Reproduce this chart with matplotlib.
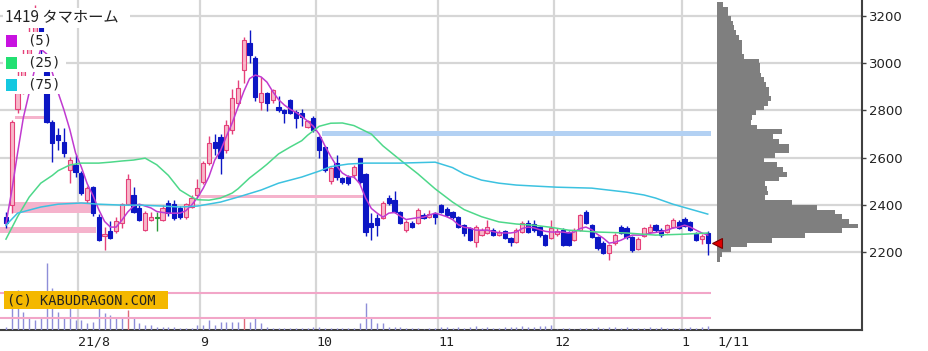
import numpy as np
import matplotlib
matplotlib.use('Agg')
import matplotlib.pyplot as plt
from matplotlib.patches import Rectangle

# 1419 タマホーム, daily candles 2021/7/12 - 2022/1/11
opens = [2350, 2400, 2805, 2880, 3000, 3110, 3160, 2965, 2750, 2695,
         2666, 2547, 2570, 2535, 2420, 2475, 2348, 2270, 2290, 2290,
         2325, 2405, 2440, 2385, 2295, 2336, 2345, 2336, 2410, 2405,
         2385, 2348, 2390, 2440, 2497, 2577, 2666, 2687, 2632, 2717,
         2831, 2971, 3086, 3022, 2836, 2875, 2844, 2815, 2800, 2844,
         2793, 2790, 2729, 2767, 2687, 2645, 2500, 2577, 2513, 2518,
         2525, 2597, 2530, 2323, 2344, 2344, 2430, 2420, 2370, 2293,
         2323, 2323, 2357, 2350, 2366, 2400, 2383, 2370, 2348, 2314,
         2302, 2242, 2272, 2280, 2293, 2272, 2290, 2260, 2242, 2285,
         2323, 2320, 2306, 2272, 2260, 2278, 2293, 2285, 2251, 2293,
         2370, 2314, 2264, 2240, 2195, 2238, 2306, 2302, 2264, 2215,
         2268, 2285, 2314, 2293, 2285, 2306, 2327, 2340, 2327, 2280,
         2255, 2280]
highs = [2370, 2760, 2970, 3060, 3160, 3245, 3180, 2975, 2760, 2725,
         2725, 2602, 2610, 2545, 2480, 2480, 2360, 2305, 2330, 2350,
         2410, 2530, 2475, 2400, 2375, 2370, 2370, 2400, 2420, 2420,
         2395, 2410, 2440, 2510, 2585, 2690, 2700, 2700, 2760, 2890,
         2930, 3110, 3140, 3030, 2940, 2880, 2890, 2860, 2805, 2850,
         2800, 2805, 2760, 2775, 2690, 2650, 2560, 2610, 2520, 2525,
         2570, 2600, 2535, 2365, 2360, 2415, 2440, 2460, 2375, 2335,
         2330, 2385, 2365, 2380, 2370, 2405, 2390, 2375, 2352, 2320,
         2305, 2315, 2300, 2335, 2300, 2295, 2295, 2265, 2300, 2330,
         2335, 2335, 2310, 2276, 2336, 2300, 2300, 2290, 2300, 2360,
         2380, 2320, 2270, 2245, 2235, 2280, 2315, 2310, 2270, 2262,
         2305, 2320, 2320, 2300, 2320, 2345, 2335, 2350, 2330, 2285,
         2275, 2290]
lows = [2300, 2365, 2790, 2870, 2990, 3090, 3040, 2745, 2580, 2632,
        2602, 2492, 2520, 2440, 2410, 2355, 2245, 2210, 2255, 2280,
        2300, 2400, 2365, 2330, 2290, 2330, 2290, 2330, 2355, 2336,
        2340, 2340, 2385, 2430, 2490, 2570, 2610, 2530, 2620, 2700,
        2820, 2916, 3000, 2840, 2800, 2797, 2830, 2795, 2745, 2785,
        2725, 2735, 2725, 2710, 2600, 2540, 2490, 2505, 2490, 2485,
        2515, 2490, 2270, 2250, 2270, 2340, 2400, 2365, 2318, 2285,
        2300, 2318, 2340, 2345, 2318, 2365, 2350, 2340, 2300, 2270,
        2245, 2220, 2268, 2275, 2268, 2268, 2255, 2225, 2238, 2280,
        2280, 2285, 2265, 2225, 2255, 2270, 2225, 2225, 2245, 2288,
        2318, 2260, 2210, 2190, 2165, 2230, 2275, 2255, 2200, 2210,
        2262, 2280, 2285, 2262, 2280, 2300, 2298, 2305, 2288, 2245,
        2235, 2187]
closes = [2325, 2750, 2875, 3000, 3110, 3170, 3070, 2750, 2662, 2675,
          2620, 2590, 2540, 2450, 2470, 2365, 2250, 2278, 2260, 2330,
          2405, 2510, 2370, 2336, 2365, 2350, 2345, 2385, 2365, 2345,
          2348, 2405, 2428, 2470, 2577, 2662, 2640, 2600, 2738, 2853,
          2895, 3098, 3035, 2857, 2875, 2831, 2886, 2800, 2790, 2790,
          2768, 2772, 2755, 2717, 2632, 2547, 2556, 2518, 2497, 2492,
          2560, 2497, 2285, 2306, 2314, 2408, 2408, 2370, 2323, 2327,
          2306, 2378, 2344, 2362, 2350, 2370, 2357, 2350, 2306, 2280,
          2251, 2306, 2293, 2306, 2272, 2285, 2260, 2242, 2293, 2323,
          2285, 2293, 2272, 2230, 2302, 2290, 2230, 2230, 2293, 2357,
          2323, 2264, 2217, 2195, 2230, 2272, 2280, 2264, 2208, 2255,
          2300, 2306, 2293, 2272, 2314, 2336, 2302, 2310, 2293, 2251,
          2268, 2240]
# volume, thousand shares (approx)
volume = [30, 220, 400, 180, 130, 100, 130, 670, 420, 180,
          120, 220, 100, 100, 70, 80, 220, 170, 150, 120,
          120, 200, 120, 70, 50, 50, 30, 30, 30, 30,
          20, 20, 20, 50, 50, 100, 50, 80, 80, 80,
          80, 130, 80, 120, 70, 30, 20, 20, 20, 20,
          20, 20, 20, 30, 30, 20, 20, 20, 20, 20,
          20, 70, 270, 120, 70, 70, 30, 30, 30, 20,
          20, 20, 10, 20, 20, 30, 30, 20, 30, 20,
          30, 40, 20, 30, 20, 20, 30, 30, 30, 40,
          30, 30, 40, 40, 50, 10, 20, 20, 10, 20,
          20, 20, 30, 20, 30, 30, 20, 30, 20, 20,
          20, 30, 20, 30, 20, 20, 20, 20, 30, 20,
          30, 40]
vol_red = [21, 41]
vol_lines = [370, 120]

# moving averages
ma5 = [2320, 2460, 2620, 2770, 2875, 2980, 3060, 3040, 2960, 2875,
       2802, 2720, 2620, 2560, 2490, 2440, 2380, 2330, 2306, 2306,
       2336, 2370, 2395, 2403, 2395, 2387, 2372, 2368, 2365, 2365,
       2365, 2375, 2399, 2430, 2470, 2520, 2590, 2630, 2690, 2747,
       2814, 2880, 2935, 2950, 2942, 2920, 2880, 2846, 2823, 2805,
       2792, 2775, 2755, 2733, 2700, 2650, 2605, 2565, 2535, 2520,
       2518, 2490, 2430, 2385, 2365, 2348, 2365, 2368, 2352, 2338,
       2342, 2346, 2348, 2357, 2365, 2358, 2350, 2338, 2316, 2305,
       2302, 2293, 2293, 2293, 2287, 2282, 2281, 2281, 2285, 2300,
       2306, 2303, 2295, 2288, 2285, 2285, 2285, 2281, 2285, 2300,
       2306, 2295, 2275, 2259, 2238, 2242, 2250, 2262, 2272, 2272,
       2272, 2280, 2283, 2287, 2293, 2302, 2306, 2314, 2306, 2293,
       2281, 2272]
ma25_idx = [0, 2, 4, 6, 8, 9, 11, 13, 16, 18, 20, 22, 24, 26, 28, 30, 32, 33,
            35, 37, 39, 40, 42, 44, 45, 47, 49, 51, 52, 54, 56, 58, 60, 63, 65,
            68, 71, 74, 77, 79, 82, 85, 88, 91, 94, 97, 102, 107, 112, 117, 121]
ma25 = [2255, 2350, 2433, 2492, 2525, 2545, 2569, 2577, 2577, 2581, 2586, 2590,
        2598, 2570, 2525, 2463, 2433, 2422, 2420, 2429, 2450, 2468, 2514, 2552,
        2572, 2616, 2645, 2672, 2695, 2733, 2746, 2747, 2736, 2700, 2650, 2590,
        2532, 2468, 2412, 2380, 2350, 2328, 2319, 2314, 2305, 2293, 2285, 2281,
        2272, 2276, 2281]
ma75_idx = [0, 2, 6, 9, 13, 16, 20, 23, 27, 30, 33, 37, 40, 44, 47, 51, 54, 56,
            59, 62, 68, 74, 77, 79, 82, 85, 88, 91, 95, 101, 107, 110, 112, 115,
            118, 121]
ma75 = [2314, 2365, 2391, 2403, 2408, 2403, 2399, 2399, 2395, 2391, 2395, 2412,
        2433, 2463, 2492, 2518, 2543, 2562, 2573, 2577, 2577, 2581, 2558, 2531,
        2505, 2492, 2484, 2480, 2475, 2471, 2454, 2442, 2429, 2403, 2382, 2361]

# horizontal zones (price low, price high, first day, last day)
zone_lo = [2365, 2280, 2765, 2431, 2690]
zone_hi = [2413, 2306, 2778, 2442, 2712]
zone_from = [1, -1, 1.5, 33.5, 54.5]
zone_to = [15, 15.5, 6.5, 62, 121.5]
zone_col = ['#f5b3cc', '#f5b3cc', '#f5b3cc', '#f5b3cc', '#b3d1f3']

# price-by-volume profile, 20 yen bins from 2160
profile_bins = np.arange(2160, 3260, 20)
profile = [3, 5, 14, 30, 55, 88, 125, 141, 132, 125, 118, 100, 75, 48, 51,
           50, 48, 62, 70, 66, 60, 47, 58, 72, 72, 62, 56, 65, 40, 34, 35,
           39, 47, 51, 54, 52, 52, 49, 47, 44, 43, 43, 42, 27, 25, 25, 25,
           22, 19, 17, 16, 14, 11, 11, 6]

month_starts = [13, 34, 54, 75, 95, 117]
month_labels = ['21/8', '9', '10', '11', '12', '1']
last_label = '1/11'
price_grid = [2200, 2400, 2600, 2800, 3000, 3200]

W, H = 929, 351
fig = plt.figure(figsize=(W / 100, H / 100), dpi=100)
rect = [0, 21 / H, 862 / W, 330 / H]
ax = fig.add_axes(rect)
ax.set_xlim(-1.03, 147.6)
ax.set_ylim(1870, 3268)

x = np.arange(len(closes))
o, hi, lo, c = map(np.array, (opens, highs, lows, closes))

# grid
for p in price_grid:
    ax.axhline(p, color='#d6d6d6', lw=1.6, zorder=0.5)
for m in month_starts:
    ax.axvline(m - 0.5, color='#d6d6d6', lw=1.6, zorder=0.5)

# zones
for zl, zh, zf, zt, zc in zip(zone_lo, zone_hi, zone_from, zone_to, zone_col):
    ax.fill_between([zf, zt], zl, zh, color=zc, lw=0, zorder=1)

# candles
face, edge = [], []
for oo, cc in zip(o, c):
    if cc > oo:
        face.append('#f7b7c9'); edge.append('#e5407a')
    elif cc < oo:
        face.append('#0c16c4'); edge.append('#0c16c4')
    else:
        face.append('#2a9a3a'); edge.append('#2a9a3a')
ax.vlines(x, lo, hi, colors=edge, lw=1.0, zorder=3)
ax.bar(x, np.maximum(np.abs(c - o), 3), bottom=np.minimum(o, c), width=0.72,
       color=face, edgecolor=edge, lw=0.8, zorder=3.5)

# moving averages
ax.plot(x, ma5, color='#c03ad0', lw=1.1, zorder=4)
ax.plot(ma25_idx, ma25, color='#4ed88a', lw=1.1, zorder=4)
ax.plot(ma75_idx, ma75, color='#3cc2e0', lw=1.1, zorder=4)

# axes style
for s in ['left', 'top']:
    ax.spines[s].set_visible(False)
for s in ['right', 'bottom']:
    ax.spines[s].set_color('#404040')
    ax.spines[s].set_linewidth(1.5)
ax.yaxis.tick_right()
ax.set_yticks(price_grid)
ax.tick_params(axis='y', direction='out', length=3, width=1, colors='#404040',
               labelcolor='#222222', labelsize=9.5, pad=2)
ax.set_xticks([m - 0.5 for m in month_starts] + [len(closes) + 0.6])
ax.set_xticklabels(month_labels + [last_label], ha='left',
                   fontfamily='DejaVu Sans Mono', fontsize=9.5, color='#222222')
ax.tick_params(axis='x', length=0, pad=4)

# volume
axv = fig.add_axes(rect, sharex=ax, zorder=1)
axv.patch.set_visible(False)
axv.axis('off')
axv.set_ylim(0, 3300)
vcol = ['#e06a7a' if i in vol_red else '#8e8ed8' for i in x]
axv.vlines(x, 0, volume, colors=vcol, lw=1.0)
axv.hlines(vol_lines, -1.03, 121.6, colors='#f2a6c8', lw=1.5)

# price-by-volume profile
axp = fig.add_axes([717 / W, 21 / H, 145 / W, 330 / H], sharey=ax, zorder=2)
axp.patch.set_visible(False)
axp.axis('off')
axp.set_xlim(0, 145)
axp.barh(profile_bins, profile, height=20, align='edge', color='#7f7f7f', lw=0)
axp.plot([0], [closes[-1]], marker='<', ms=7, color='#e00000',
         markeredgecolor='#7a0000', mew=0.8, clip_on=False)


def fpx(px, py):
    return px / W, 1 - py / H


def box(x0, y0, x1, y1, col):
    fig.add_artist(Rectangle(fpx(x0, y1), (x1 - x0) / W, (y1 - y0) / H,
                             transform=fig.transFigure, color=col, lw=0, zorder=5))


# legend
box(3, 8, 130, 28, 'white')
fig.text(*fpx(5, 18), '1419 タマホーム', family=['Noto Sans CJK JP', 'DejaVu Sans'],
         fontsize=11, va='center', ha='left', color='#222222', zorder=6)
for yy, col, lab in [(41, '#c812e0', '(5)'), (63, '#22e072', '(25)'), (85, '#14c8e0', '(75)')]:
    box(3, yy - 9, 66, yy + 9, 'white')
    box(6, yy - 5.5, 17, yy + 5.5, col)
    fig.text(*fpx(27, yy), lab, family='DejaVu Sans Mono', fontsize=10,
             va='center', ha='left', color='#222222', zorder=6)

# copyright
box(4, 291, 168, 309, '#f4b800')
fig.text(*fpx(7, 300.5), '(C) KABUDRAGON.COM', family='DejaVu Sans Mono',
         fontsize=9.8, va='center', ha='left', color='#222222', zorder=6)

fig.savefig('out.png', dpi=100)
